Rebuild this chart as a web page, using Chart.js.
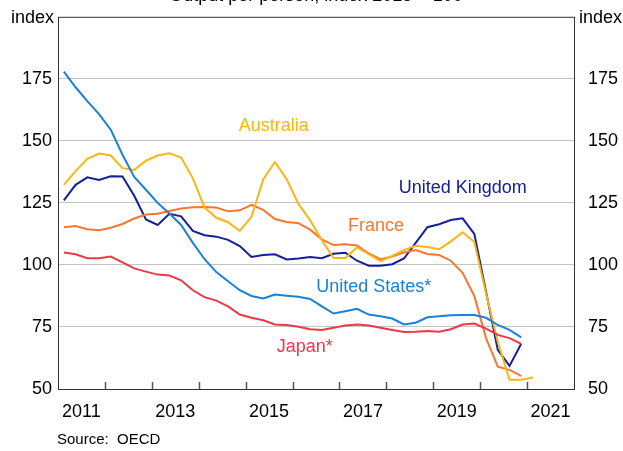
<!DOCTYPE html>
<html>
<head>
<meta charset="utf-8">
<script src="https://cdn.jsdelivr.net/npm/chart.js@4.4.1/dist/chart.umd.min.js"></script>
<style>
  html, body { margin: 0; padding: 0; background: #fff; }
  canvas { display: block; }
</style>
</head>
<body>
<canvas id="chart" width="623" height="451"></canvas>
<script>
// quarterly observations
var quarters = [
  '2011-Q1','2011-Q2','2011-Q3','2011-Q4','2012-Q1','2012-Q2','2012-Q3','2012-Q4',
  '2013-Q1','2013-Q2','2013-Q3','2013-Q4','2014-Q1','2014-Q2','2014-Q3','2014-Q4',
  '2015-Q1','2015-Q2','2015-Q3','2015-Q4','2016-Q1','2016-Q2','2016-Q3','2016-Q4',
  '2017-Q1','2017-Q2','2017-Q3','2017-Q4','2018-Q1','2018-Q2','2018-Q3','2018-Q4',
  '2019-Q1','2019-Q2','2019-Q3','2019-Q4','2020-Q1','2020-Q2','2020-Q3','2020-Q4',
  '2021-Q1'
];

var australia = [132.3,137.8,142.8,144.9,144.1,139.0,138.3,142.0,144.1,145.0,
                 143.3,134.9,123.1,119.0,117.2,113.7,119.4,134.5,141.5,134.5,
                 124.6,118.0,110.0,102.8,102.8,107.1,104.3,101.5,103.6,106.0,
                 107.7,107.2,106.3,109.5,113.2,109.2,88.5,69.0,53.7,53.7,
                 54.6];
var unitedKingdom = [126.0,132.3,135.3,134.2,135.7,135.6,127.9,118.3,116.1,120.6,
                     119.6,113.7,112.0,111.4,110.1,107.6,103.2,104.0,104.3,102.2,
                     102.6,103.2,102.7,104.5,104.9,101.7,99.7,99.7,100.3,102.6,
                     108.9,115.2,116.4,118.1,118.8,112.5,89.2,65.8,59.3,68.2];
var france = [115.2,115.7,114.4,114.0,115.0,116.5,118.7,120.3,120.6,121.7,
              122.7,123.2,123.3,123.1,121.6,122.0,124.2,122.2,118.5,117.3,
              116.8,114.2,110.3,108.0,108.3,107.8,104.6,102.3,103.4,105.0,
              106.0,104.4,104.0,101.7,96.8,87.5,70.5,59.0,57.7,55.3];
var unitedStates = [177.9,171.6,166.0,160.8,154.5,144.4,135.5,130.3,125.0,120.7,
                    116.1,108.9,102.3,97.1,93.4,89.8,87.5,86.5,88.1,87.6,
                    87.2,86.3,83.3,80.4,81.3,82.3,80.0,79.3,78.4,76.0,
                    76.7,78.9,79.3,79.7,79.8,79.8,78.7,75.8,73.8,70.8];
var japan = [105.0,104.3,102.7,102.7,103.4,101.0,98.6,97.3,96.1,95.7,
             93.8,89.8,87.0,85.6,83.3,80.0,78.7,77.7,76.0,75.8,
             75.1,74.1,73.8,74.7,75.6,76.0,75.6,74.7,73.8,73.0,
             73.1,73.4,73.1,74.1,76.0,76.4,74.3,71.8,70.5,68.2];

var yTicks = [50, 75, 100, 125, 150, 175];
var yearLabels = ['2011', '2013', '2015', '2017', '2019', '2021'];

// where the series names sit, in data units
var seriesLabels = [
  { text: 'Australia',      x: 2015.6,  y: 155.8, color: '#FDB515' },
  { text: 'United Kingdom', x: 2019.63, y: 131.0, color: '#14209A' },
  { text: 'France',         x: 2017.78, y: 115.6, color: '#F8762E' },
  { text: 'United States*', x: 2017.73, y: 91.2,  color: '#1C80D6' },
  { text: 'Japan*',         x: 2016.26, y: 67.1,  color: '#EE3848' }
];

function quarterToYear(q) {
  var yr = parseInt(q.slice(0, 4), 10);
  var n = parseInt(q.slice(-1), 10);
  return yr + (n - 0.5) / 4;
}

function toPoints(values) {
  var pts = [];
  for (var i = 0; i < values.length; i++) {
    pts.push({ x: quarterToYear(quarters[i]), y: values[i] });
  }
  return pts;
}

function makeSet(label, values, color) {
  return {
    label: label,
    data: toPoints(values),
    borderColor: color,
    backgroundColor: color,
    borderWidth: 2,
    pointRadius: 0,
    tension: 0,
    yAxisID: 'y'
  };
}

var FONT = '"Liberation Sans", Arial, sans-serif';

var decorations = {
  id: 'decorations',
  afterDatasetsDraw: function(chart) {
    var ctx = chart.ctx;
    var area = chart.chartArea;
    var xs = chart.scales.x;
    var ys = chart.scales.y;
    ctx.save();

    // tick marks pointing up into the plot
    ctx.strokeStyle = '#555';
    ctx.lineWidth = 1.5;
    for (var yr = 2012; yr <= 2021; yr++) {
      var px = Math.round(xs.getPixelForValue(yr)) + 0.5;
      ctx.beginPath();
      ctx.moveTo(px, area.bottom);
      ctx.lineTo(px, area.bottom - 7);
      ctx.stroke();
    }

    // frame
    ctx.strokeStyle = '#333';
    ctx.lineWidth = 1;
    ctx.strokeRect(area.left + 0.5, area.top + 0.5, area.right - area.left, area.bottom - area.top);

    // series names
    ctx.font = '18px ' + FONT;
    ctx.textAlign = 'center';
    ctx.textBaseline = 'middle';
    seriesLabels.forEach(function(l) {
      ctx.fillStyle = l.color;
      ctx.fillText(l.text, xs.getPixelForValue(l.x), ys.getPixelForValue(l.y));
    });

    // unit labels
    ctx.fillStyle = '#000';
    ctx.textAlign = 'right';
    ctx.fillText('index', area.left - 4, 18);
    ctx.textAlign = 'left';
    ctx.fillText('index', area.right + 5, 18);

    // title, cut off by the top edge
    ctx.textAlign = 'center';
    ctx.textBaseline = 'alphabetic';
    ctx.fillText('Output per person, index 2015 = 100', 316, 1);

    // source
    ctx.font = '15px ' + FONT;
    ctx.textBaseline = 'middle';
    ctx.textAlign = 'left';
    ctx.fillText('Source:  OECD', 57, 440);
    ctx.restore();
  }
};

var yTickOpts = {
  min: 50,
  max: 200,
  grid: {
    drawTicks: false,
    drawOnChartArea: true,
    color: function(c) {
      var v = c.tick ? c.tick.value : null;
      return (v === 50 || v === 200) ? 'rgba(0,0,0,0)' : '#c4c4c4';
    },
    lineWidth: 1
  },
  border: { display: false },
  afterBuildTicks: function(scale) {
    scale.ticks = yTicks.concat([200]).map(function(v) { return { value: v }; });
  },
  ticks: {
    color: '#000',
    padding: 6,
    font: { size: 18, family: FONT },
    callback: function(v) { return yTicks.indexOf(v) >= 0 ? String(v) : ''; }
  }
};

new Chart(document.getElementById('chart'), {
  type: 'line',
  data: {
    datasets: [
      makeSet('Japan*', japan, '#EE3848'),
      makeSet('United States*', unitedStates, '#1C80D6'),
      makeSet('Australia', australia, '#FDB515'),
      makeSet('France', france, '#F8762E'),
      makeSet('United Kingdom', unitedKingdom, '#14209A')
    ]
  },
  options: {
    responsive: false,
    animation: false,
    devicePixelRatio: 1,
    layout: { padding: { top: 11, left: 0, right: 0, bottom: 0 } },
    plugins: {
      legend: { display: false },
      title: { display: false },
      tooltip: { enabled: false }
    },
    scales: {
      x: {
        type: 'linear',
        min: 2011,
        max: 2022,
        grid: { display: false },
        border: { display: false },
        afterBuildTicks: function(scale) {
          var t = [];
          for (var yr = 2011; yr <= 2022; yr++) t.push({ value: yr });
          scale.ticks = t;
        },
        afterFit: function(scale) { scale.height = 62; },
        ticks: {
          color: '#000',
          autoSkip: false,
          maxRotation: 0,
          padding: 4,
          labelOffset: 23.45,
          font: { size: 18, family: FONT },
          callback: function(v) {
            var s = String(v);
            return yearLabels.indexOf(s) >= 0 ? s : '';
          }
        }
      },
      y: Object.assign({}, yTickOpts, {
        position: 'left',
        afterFit: function(scale) { scale.width = 58; }
      }),
      y2: Object.assign({}, yTickOpts, {
        position: 'right',
        grid: { display: false },
        afterFit: function(scale) { scale.width = 49; }
      })
    }
  },
  plugins: [decorations]
});
</script>
</body>
</html>
